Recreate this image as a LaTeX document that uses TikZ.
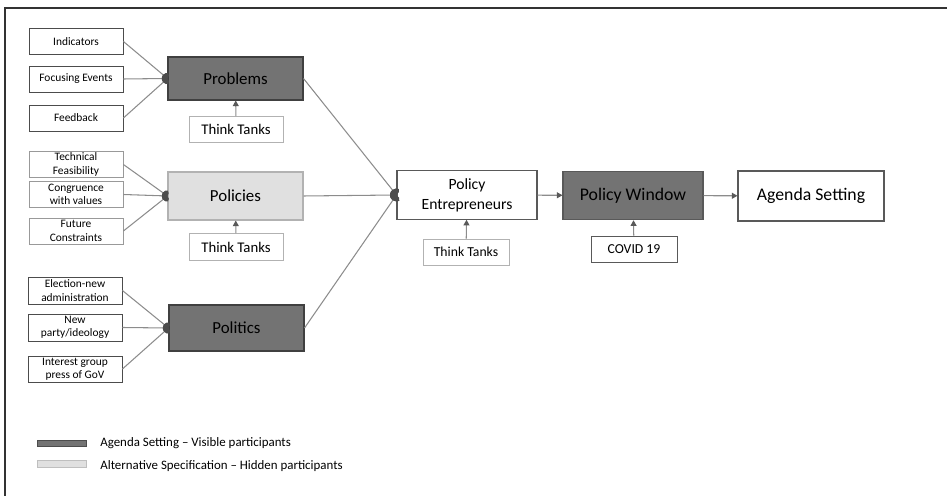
\documentclass[tikz,border=0pt]{standalone}
\usepackage{fontspec}
\setmainfont{Carlito}
\usetikzlibrary{arrows.meta}

\begin{document}
\begin{tikzpicture}[x=0.02cm, y=-0.02cm,
  input/.style={draw=black!70, line width=0.5pt, minimum width=1.88cm, minimum height=0.52cm, inner sep=0pt, align=center, font=\fontsize{6.5}{7.6}\selectfont},
  softinput/.style={input, draw=black!40},
  stream/.style={draw=black!75, line width=0.6pt, fill=black!55, minimum width=2.7cm, inner sep=0pt, font=\fontsize{9.6}{11}\selectfont},
  hidden/.style={stream, draw=black!30, fill=black!12},
  tank/.style={draw=black!30, line width=0.5pt, minimum width=1.88cm, minimum height=0.52cm, inner sep=0pt, font=\fontsize{8.4}{10}\selectfont},
  stage/.style={draw=black!65, line width=0.6pt, minimum width=2.8cm, minimum height=0.97cm, inner sep=0pt, align=center, font=\fontsize{8.9}{11.3}\selectfont},
  merge/.style={draw=black!45, line width=0.6pt, -{Ellipse[length=3.2pt, width=5pt, color=black!70, fill=black!70]}},
  feed/.style={draw=black!45, line width=0.6pt, -{Triangle[length=3.2pt, width=3.4pt, color=black!65, fill=black!65]}}]
\useasboundingbox (0,0) rectangle (947,496);
\draw[black!80, line width=0.6pt] (947,8) -- (5,8) -- (5,496);

% problems stream
\node[input] (indicators) at (76,41.5) {Indicators};
\node[input] (focusing) at (76,79) {Focusing Events};
\node[input] (feedback) at (76,118) {Feedback};
\node[stream, minimum height=0.86cm] (problems) at (235.5,78.5) {Problems};
\node[tank] (tanks1) at (236,129.5) {Think Tanks};

% policies stream
\node[softinput] (feasibility) at (76,164.5) {Technical\\Feasibility};
\node[softinput] (congruence) at (76,194.5) {Congruence\\with values};
\node[softinput] (constraints) at (76,231) {Future\\Constraints};
\node[hidden, minimum height=0.96cm] (policies) at (235.5,196) {Policies};
\node[tank, minimum height=0.54cm] (tanks2) at (236,247) {Think Tanks};

% politics stream
\node[input, minimum height=0.54cm] (election) at (75,290.5) {Election-new\\administration};
\node[input, minimum height=0.54cm] (party) at (75,327.5) {New\\party/ideology};
\node[input] (interest) at (75,369) {Interest group\\press of GoV};
\node[stream, minimum height=0.92cm] (politics) at (236.5,328) {Politics};

% window
\node[stage] (entrepreneurs) at (467,195) {Policy\\Entrepreneurs};
\node[tank, minimum width=1.72cm, font=\fontsize{7.8}{9}\selectfont] (tanks3) at (466,252) {Think Tanks};
\node[stage, fill=black!55, font=\fontsize{10.1}{12}\selectfont] (window) at (633,195.5) {Policy Window};
\node[tank, draw=black!65, minimum width=1.72cm, font=\fontsize{7.8}{9}\selectfont] (covid) at (634,249) {COVID 19};
\node[stage, minimum width=2.92cm, minimum height=1cm, font=\fontsize{10.1}{12}\selectfont] (agenda) at (811,196) {Agenda Setting};

\draw[merge] (indicators.east) -- (problems.west);
\draw[merge] (focusing.east) -- (problems.west);
\draw[merge] (feedback.east) -- (problems.west);
\draw[merge] (feasibility.east) -- (policies.west);
\draw[merge] (congruence.east) -- (policies.west);
\draw[merge] (constraints.east) -- (policies.west);
\draw[merge] (election.east) -- (politics.west);
\draw[merge] (party.east) -- (politics.west);
\draw[merge] (interest.east) -- (politics.west);

\draw[feed] (tanks1) -- (problems);
\draw[feed] (tanks2) -- (policies);
\draw[feed] (tanks3) -- (entrepreneurs);
\draw[feed] (covid) -- (window);

\draw[merge, -{Ellipse[length=3.6pt, width=6.2pt, color=black!70, fill=black!70]}] (problems.east) -- (entrepreneurs.west);
\draw[merge, -{Ellipse[length=3.6pt, width=6.2pt, color=black!70, fill=black!70]}] (policies.east) -- (entrepreneurs.west);
\draw[merge, -{Ellipse[length=3.6pt, width=6.2pt, color=black!70, fill=black!70]}] (politics.east) -- (entrepreneurs.west);

\draw[feed] (entrepreneurs) -- (window);
\draw[feed] (window) -- (agenda);

% legend
\node[draw=black!70, fill=black!55, minimum width=0.98cm, minimum height=0.12cm, inner sep=0pt] (darkkey) at (61.5,443) {};
\node[draw=black!25, fill=black!12, minimum width=0.98cm, minimum height=0.14cm, inner sep=0pt] (lightkey) at (61.5,463.5) {};
\node[anchor=west, inner sep=0pt, font=\fontsize{7.35}{9}\selectfont] (darktext) at (100,443) {Agenda Setting -- Visible participants};
\node[anchor=west, inner sep=0pt, font=\fontsize{7.35}{9}\selectfont] (lighttext) at (100,466) {Alternative Specification -- Hidden participants};
\end{tikzpicture}
\end{document}
